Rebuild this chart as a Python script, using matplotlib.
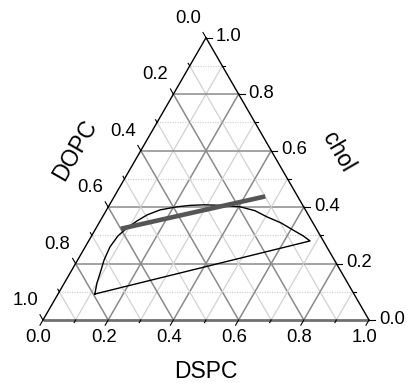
import numpy as np
import matplotlib
matplotlib.use('Agg')
import matplotlib.pyplot as plt

plt.rcParams['font.family'] = ['Liberation Sans', 'DejaVu Sans']

# Two-phase boundary (DSPC, chol mole fractions; DOPC = 1 - DSPC - chol)
boundary_dspc = [0.113, 0.100, 0.092, 0.081, 0.076, 0.081, 0.095, 0.113, 0.133,
                 0.164, 0.211, 0.248, 0.290, 0.346, 0.404, 0.457, 0.505, 0.558,
                 0.607, 0.649, 0.679]
boundary_chol = [0.092, 0.131, 0.167, 0.213, 0.259, 0.298, 0.326, 0.351, 0.372,
                 0.390, 0.401, 0.406, 0.408, 0.406, 0.401, 0.387, 0.365, 0.344,
                 0.319, 0.298, 0.280]

# Compositional trajectory
path_dspc = [0.083, 0.457]
path_chol = [0.325, 0.436]

tick_vals = np.round(np.arange(0, 1.01, 0.2), 1)

SQ = np.sqrt(3) / 2
PX = 1 / 326.0  # one pixel in data units


def to_xy(dspc, chol):
    dspc = np.asarray(dspc, float)
    chol = np.asarray(chol, float)
    return dspc + chol / 2, chol * SQ


fig = plt.figure(figsize=(4.08, 3.85), dpi=100)
ax = fig.add_axes([0, 0, 1, 1])
ax.set_xlim(-43 * PX, 365 * PX)
ax.set_ylim(-65 * PX, 320 * PX)
ax.axis('off')

major_c, minor_c = '#8a8a8a', '#d2d2d2'

# grid: constant chol (horizontal), constant DSPC, constant DOPC
for v in np.round(np.arange(0.1, 1.0, 0.1), 1):
    major = abs(v * 10 % 2) < 1e-6
    col = major_c if major else minor_c
    ls_h = '-' if major else (0, (1, 1))
    lw = 1.1 if major else 0.9
    x, y = to_xy([0, 1 - v], [v, v])
    ax.plot(x, y, color=col, lw=lw, ls=ls_h, zorder=1)
    x, y = to_xy([v, v], [0, 1 - v])
    ax.plot(x, y, color=col, lw=lw, zorder=1)
    x, y = to_xy([0, 1 - v], [1 - v, 0])
    ax.plot(x, y, color=col, lw=lw, zorder=1)

# frame
x, y = to_xy([0, 1], [0, 0])
ax.plot(x, y, color='#707070', lw=2.0, zorder=2, solid_capstyle='butt')
x, y = to_xy([0, 0, 1], [0, 1, 0])
ax.plot(x, y, color='black', lw=1.0, zorder=2)

# ticks
for v in np.round(np.arange(0, 1.01, 0.1), 1):
    L = (6 if v in tick_vals else 3) * PX
    # bottom (DSPC)
    x0, y0 = to_xy(v, 0)
    ax.plot([x0, x0 - 0.5 * L], [y0, y0 - SQ * L], color='black', lw=0.8)
    # right (chol)
    x0, y0 = to_xy(1 - v, v)
    ax.plot([x0, x0 + L], [y0, y0], color='black', lw=0.8)
    # left (DOPC)
    x0, y0 = to_xy(0, 1 - v)
    ax.plot([x0, x0 - 0.5 * L], [y0, y0 + SQ * L], color='black', lw=0.8)

fs = 13.3
for v in tick_vals:
    x0, y0 = to_xy(v, 0)
    ax.text(x0 - 4.5 * PX, y0 - 17 * PX, f'{v:.1f}', ha='center', va='center', fontsize=fs)
    x0, y0 = to_xy(1 - v, v)
    ax.text(x0 + 10 * PX, y0 + 1 * PX, f'{v:.1f}', ha='left', va='center', fontsize=fs)
    x0, y0 = to_xy(0, 1 - v)
    ax.text(x0 - 18 * PX, y0 + 19.5 * PX, f'{v:.1f}', ha='center', va='center', fontsize=fs)

ax.text(163 * PX, -52 * PX, 'DSPC', ha='center', va='center', fontsize=16.5)
ax.text(295 * PX, 168 * PX, 'chol', ha='center', va='center', fontsize=16.5, rotation=-60)
ax.text(32 * PX, 170 * PX, 'DOPC', ha='center', va='center', fontsize=16.5, rotation=60)

# phase boundary, closed by the straight tie line
bx, by = to_xy(boundary_dspc + boundary_dspc[:1], boundary_chol + boundary_chol[:1])
ax.plot(bx, by, color='black', lw=1.0, zorder=3)

px_, py_ = to_xy(path_dspc, path_chol)
ax.plot(px_, py_, color='#555555', lw=3.3, zorder=4)

fig.savefig('out.png', dpi=100)
